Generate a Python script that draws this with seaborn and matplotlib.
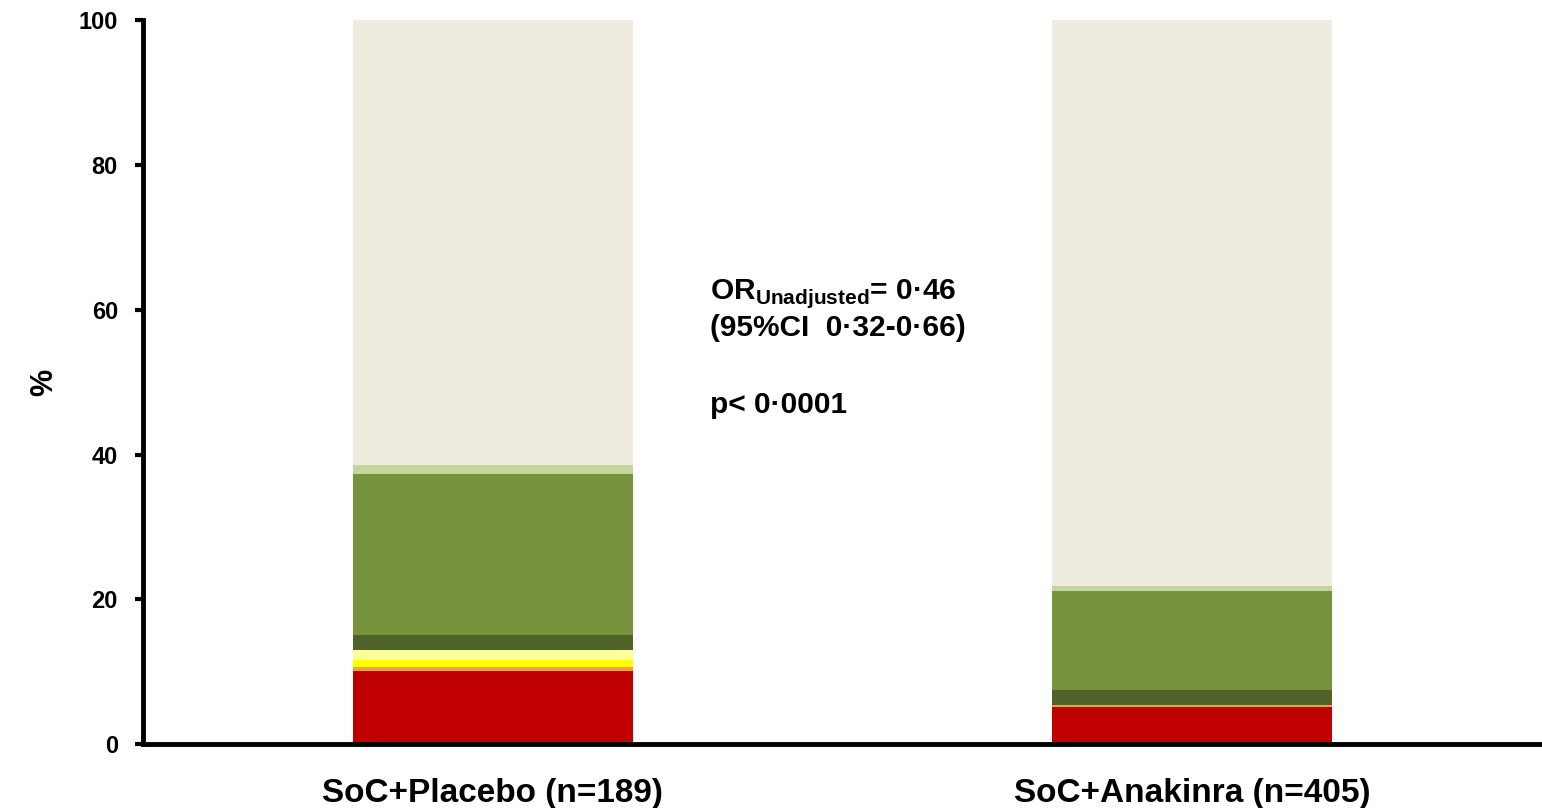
import matplotlib
matplotlib.use("Agg")
import matplotlib.pyplot as plt
import seaborn as sns
import numpy as np
import pandas as pd

groups = ["SoC+Placebo (n=189)", "SoC+Anakinra (n=405)"]
levels = ["Level 1", "Level 2", "Level 3", "Level 4", "Level 5", "Level 6", "Level 7", "Level 8"]
placebo = [10.1, 0.5, 1.0, 1.4, 2.1, 22.2, 1.2, 61.5]
anakinra = [5.2, 0.25, 0.0, 0.0, 2.1, 13.55, 0.8, 78.1]
colors = ["#C00000", "#F0A040", "#FFFF00", "#FFFF99", "#4F6228", "#77933C", "#C3D69B", "#EEECE1"]
yticks = [0, 20, 40, 60, 80, 100]

sns.set_theme(style="white")
plt.rcParams["font.family"] = ["Liberation Sans", "DejaVu Sans"]
plt.rcParams["font.weight"] = "bold"
plt.rcParams["text.color"] = "black"
plt.rcParams["axes.labelcolor"] = "black"
plt.rcParams["xtick.color"] = "black"
plt.rcParams["ytick.color"] = "black"
plt.rcParams["mathtext.fontset"] = "custom"
plt.rcParams["mathtext.rm"] = "Liberation Sans:bold"
plt.rcParams["mathtext.bf"] = "Liberation Sans:bold"

fig = plt.figure(figsize=(15.42, 8.08), dpi=100)
ax = fig.add_axes([0.0927, 0.079, 0.9073, 0.896])

cum_p = np.cumsum(placebo)
cum_a = np.cumsum(anakinra)
# draw from top layer down so lower layers overlay
for i in range(len(levels) - 1, -1, -1):
    df = pd.DataFrame({"group": groups, "value": [cum_p[i], cum_a[i]]})
    sns.barplot(data=df, x="group", y="value", color=colors[i], width=0.4,
                saturation=1, linewidth=0, ax=ax, errorbar=None)

ax.set_xlim(-0.5, 1.5)
ax.set_ylim(0, 100)
ax.set_yticks(yticks)
ax.set_yticklabels([str(t) for t in yticks], fontsize=17, fontweight="bold")
ax.set_xticks([0, 1])
ax.set_xticklabels(groups, fontsize=24, fontweight="bold")
ax.set_xlabel("")
ax.set_ylabel("%", fontsize=22, fontweight="bold", labelpad=14)

for s in ["top", "right"]:
    ax.spines[s].set_visible(False)
for s in ["left", "bottom"]:
    ax.spines[s].set_linewidth(3.5)
    ax.spines[s].set_color("black")
ax.tick_params(axis="y", which="both", left=True, length=6, width=3, color="black", pad=12)
ax.tick_params(axis="x", bottom=False, pad=18)

ax.text(0.31, 62.3, r"OR$_{\mathbf{Unadjusted}}$= 0·46", fontsize=21.5, fontweight="bold", va="center", ha="left")
ax.text(0.31, 57.5, "(95%CI  0·32-0·66)", fontsize=21.5, fontweight="bold", va="center", ha="left")
ax.text(0.31, 46.8, "p< 0·0001", fontsize=21.5, fontweight="bold", va="center", ha="left")

fig.savefig("out.png", dpi=100)
